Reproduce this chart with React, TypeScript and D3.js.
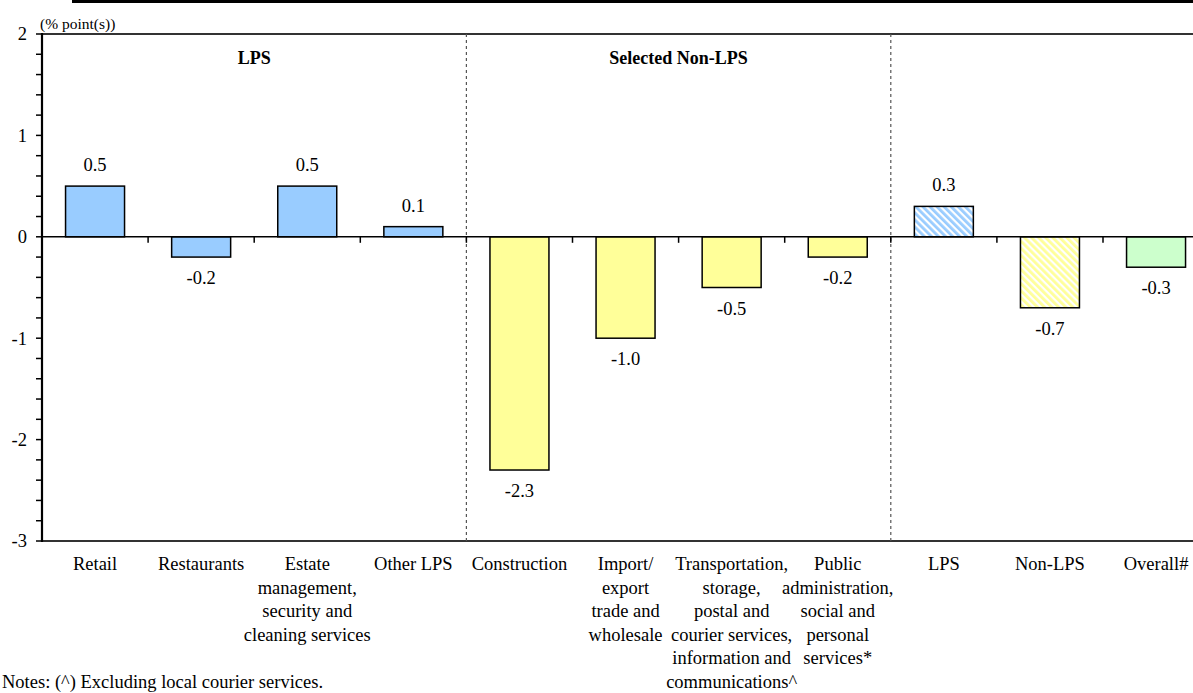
import React from "react";
import * as d3 from "d3";

const categories: string[] = [
  "Retail",
  "Restaurants",
  "Estate management, security and cleaning services",
  "Other LPS",
  "Construction",
  "Import/export trade and wholesale",
  "Transportation, storage, postal and courier services, information and communications^",
  "Public administration, social and personal services*",
  "LPS",
  "Non-LPS",
  "Overall#",
];

const categoryLabelLines: string[][] = [
  ["Retail"],
  ["Restaurants"],
  ["Estate", "management,", "security and", "cleaning services"],
  ["Other LPS"],
  ["Construction"],
  ["Import/", "export", "trade and", "wholesale"],
  ["Transportation,", "storage,", "postal and", "courier services,", "information and", "communications^"],
  ["Public", "administration,", "social and", "personal", "services*"],
  ["LPS"],
  ["Non-LPS"],
  ["Overall#"],
];

const values: number[] = [0.5, -0.2, 0.5, 0.1, -2.3, -1.0, -0.5, -0.2, 0.3, -0.7, -0.3];

// fill kind per bar
const fillKinds: string[] = [
  "lps", "lps", "lps", "lps",
  "nonlps", "nonlps", "nonlps", "nonlps",
  "lpsHatch", "nonlpsHatch", "overall",
];

const sectionTitles: string[] = ["LPS", "Selected Non-LPS", ""];
const sectionSizes: number[] = [4, 4, 3];

const yTicks: number[] = [-3, -2, -1, 0, 1, 2];
const unitLabel = "(% point(s))";
const notesText = "Notes: (^) Excluding local courier services.";

const FONT = "'Liberation Serif', 'Times New Roman', serif";

export default function App() {
  const W = 1193;
  const H = 693;
  const x0 = 42;
  const step = 106.1;
  const x1 = x0 + step * categories.length;

  const xBand = d3
    .scaleBand<string>()
    .domain(categories)
    .range([x0, x1])
    .paddingInner(0.444)
    .paddingOuter(0.222);
  const xSlot = d3.scaleBand<string>().domain(categories).range([x0, x1]).padding(0);
  const y = d3.scaleLinear().domain([-3, 2]).range([541, 34]);

  const minorTicks = d3.range(-3, 2.0001, 0.2).map((v) => Math.round(v * 10) / 10);

  const fillFor = (k: string) => {
    switch (k) {
      case "lps":
        return "#99CCFF";
      case "nonlps":
        return "#FFFF99";
      case "lpsHatch":
        return "url(#hatchBlue)";
      case "nonlpsHatch":
        return "url(#hatchYellow)";
      default:
        return "#CCFFCC";
    }
  };

  // section boundaries
  let acc = 0;
  const sections = sectionSizes.map((n, i) => {
    const startCat = categories[acc];
    const endCat = categories[acc + n - 1];
    acc += n;
    const xs = xSlot(startCat)!;
    const xe = xSlot(endCat)! + xSlot.bandwidth();
    return { title: sectionTitles[i], xs, xe };
  });

  const fs = 18.5;
  const lineH = 23.5;

  return (
    <svg
      width={W}
      height={H}
      style={{ position: "absolute", left: 0, top: 0, display: "block", background: "#fff" }}
      fontFamily={FONT}
    >
      <defs>
        <pattern id="hatchBlue" patternUnits="userSpaceOnUse" width={5} height={5} patternTransform="rotate(-45)">
          <rect width={5} height={5} fill="#ffffff" />
          <rect width={2.8} height={5} fill="#99CCFF" />
        </pattern>
        <pattern id="hatchYellow" patternUnits="userSpaceOnUse" width={5} height={5} patternTransform="rotate(-45)">
          <rect width={5} height={5} fill="#ffffff" />
          <rect width={2.8} height={5} fill="#FFFF99" />
        </pattern>
      </defs>

      {/* title underline (title cut off above) */}
      <line x1={72} x2={W} y1={1.5} y2={1.5} stroke="#000" strokeWidth={3} />

      {/* unit label */}
      <text x={40} y={29} fontSize={15.5} fill="#000">
        {unitLabel}
      </text>

      {/* plot frame top and bottom */}
      <line x1={x0} x2={x1} y1={y(2)} y2={y(2)} stroke="#333" strokeWidth={2} />
      <line x1={x0} x2={x1} y1={y(-3)} y2={y(-3)} stroke="#333" strokeWidth={2} />

      {/* section dotted separators */}
      {sections.slice(1).map((s, i) => (
        <line
          key={"sep" + i}
          x1={s.xs}
          x2={s.xs}
          y1={y(2)}
          y2={y(-3)}
          stroke="#555"
          strokeWidth={1.2}
          strokeDasharray="3,3"
        />
      ))}

      {/* section titles */}
      {sections.map((s, i) =>
        s.title ? (
          <text
            key={"st" + i}
            x={(s.xs + s.xe) / 2}
            y={64}
            textAnchor="middle"
            fontWeight="bold"
            fontSize={18}
            fill="#000"
          >
            {s.title}
          </text>
        ) : null
      )}

      {/* bars */}
      {categories.map((c, i) => {
        const v = values[i];
        const top = y(Math.max(0, v));
        const bot = y(Math.min(0, v));
        return (
          <rect
            key={"b" + i}
            x={xBand(c)!}
            y={top}
            width={xBand.bandwidth()}
            height={bot - top}
            fill={fillFor(fillKinds[i])}
            stroke="#000"
            strokeWidth={1.5}
          />
        );
      })}

      {/* zero line */}
      <line x1={x0} x2={x1} y1={y(0)} y2={y(0)} stroke="#000" strokeWidth={1.5} />
      {categories.slice(1).map((c, i) => (
        <line
          key={"zt" + i}
          x1={xSlot(c)!}
          x2={xSlot(c)!}
          y1={y(0)}
          y2={y(0) + 6}
          stroke="#000"
          strokeWidth={1.5}
        />
      ))}

      {/* data labels */}
      {categories.map((c, i) => {
        const v = values[i];
        const cx = xBand(c)! + xBand.bandwidth() / 2;
        const ty = v >= 0 ? y(v) - 15 : y(v) + 27;
        return (
          <text key={"dl" + i} x={cx} y={ty} textAnchor="middle" fontSize={fs} fill="#000">
            {v.toFixed(1)}
          </text>
        );
      })}

      {/* y axis */}
      <line x1={x0} x2={x0} y1={y(2) - 1} y2={y(-3) + 1} stroke="#000" strokeWidth={2.2} />
      {minorTicks.map((t, i) => (
        <line key={"mt" + i} x1={x0 - 6} x2={x0} y1={y(t)} y2={y(t)} stroke="#000" strokeWidth={1.5} />
      ))}
      {yTicks.map((t) => (
        <text
          key={"yt" + t}
          x={27}
          y={y(t)}
          dy="0.35em"
          textAnchor="end"
          fontSize={fs}
          fill="#000"
        >
          {t}
        </text>
      ))}

      {/* category labels */}
      {categories.map((c, i) => {
        const cx = xSlot(c)! + xSlot.bandwidth() / 2;
        return (
          <text key={"cl" + i} x={cx} y={570} textAnchor="middle" fontSize={fs} fill="#000">
            {categoryLabelLines[i].map((ln, j) => (
              <tspan key={j} x={cx} y={570 + j * lineH}>
                {ln}
              </tspan>
            ))}
          </text>
        );
      })}

      {/* notes */}
      <text x={2} y={688} fontSize={fs} fill="#000">
        {notesText}
      </text>
    </svg>
  );
}
